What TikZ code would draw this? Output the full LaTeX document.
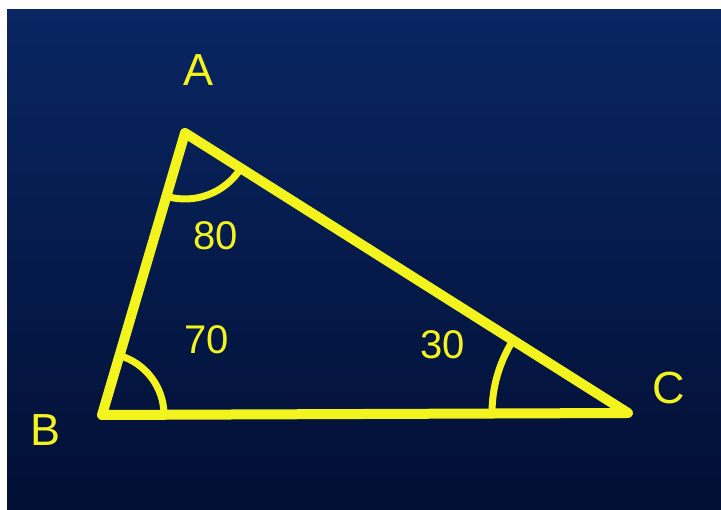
\documentclass[tikz,border=0pt]{standalone}
\usepackage{fontspec}
\setmainfont{Liberation Sans}
\usetikzlibrary{angles}
\definecolor{bgtop}{RGB}{9,38,98}
\definecolor{bgbot}{RGB}{2,15,52}
\definecolor{yel}{RGB}{243,243,30}
\tikzset{
  side/.style={yel, line width=10pt, line join=round, line cap=round},
  arcmark/.style={draw=yel, line width=7pt},
  vlabel/.style={text=yel, font=\fontsize{45}{52}\selectfont, inner sep=0pt},
  alabel/.style={text=yel, font=\fontsize{40}{48}\selectfont, inner sep=0pt}
}
\begin{document}
\begin{tikzpicture}[x=1pt,y=1pt]
\useasboundingbox (0,0) rectangle (721,510);
\fill[white] (0,0) rectangle (721,510);
\shade[top color=bgtop, bottom color=bgbot] (7,0) rectangle (721,500);
\coordinate (A) at (185,377);
\coordinate (B) at (102,95);
\coordinate (C) at (628,97);
\pic[arcmark, angle radius=66pt] {angle = B--A--C};
\pic[arcmark, angle radius=62pt] {angle = C--B--A};
\pic[arcmark, angle radius=136pt] {angle = A--C--B};
\draw[side] (A) -- (B) -- (C) -- cycle;
\node[vlabel] (la) at (199,440) {A};
\node[vlabel] (lb) at (46,80) {B};
\node[vlabel] (lc) at (669,122) {C};
\node[alabel] (l80) at (216,274) {80};
\node[alabel] (l70) at (207,170) {70};
\node[alabel] (l30) at (443,165) {30};
\end{tikzpicture}
\end{document}
